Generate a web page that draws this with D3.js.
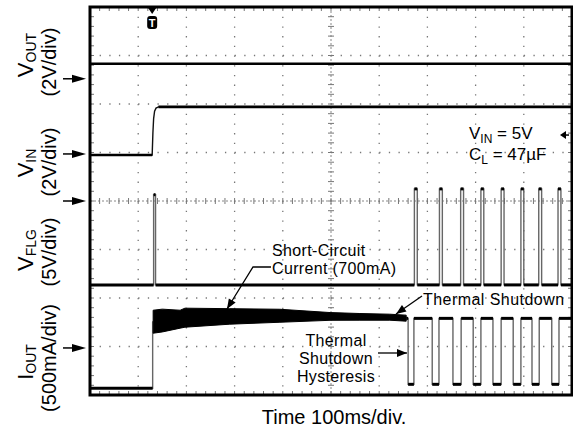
<!DOCTYPE html>
<html><head><meta charset="utf-8">
<script src="https://cdn.jsdelivr.net/npm/d3@7"></script>
<style>
html,body{margin:0;padding:0;background:#fff;}
svg{display:block;font-family:"Liberation Sans",Arial,Helvetica,sans-serif;}
</style></head><body>
<svg id="chart" width="573" height="435"></svg>
<script>
// ================= DATA =================
const timeDomain = [0, 1000];          // ms : 10 divisions x 100 ms
const divDomain = [0, 8];              // 8 vertical divisions
const channelNames = ["VOUT", "VIN", "VFLG", "IOUT"];
const channelUnitsPerDiv = [2, 2, 5, 500];          // V, V, V, mA per division
const channelZeroDiv = [6.52, 4.95, 2.27, 0.14];    // division where each trace's 0 sits
const channelMarkerDiv = [6.52, 4.97, 4.0, 0.97];   // left-hand channel arrows
const triggerTime = 129;                             // ms
const triggerLevelDiv = 5.36;

// V_OUT (V)
const vOut = [[0, 0.62], [1000, 0.62]];
// V_IN (V)
const vIn = [[0, 0], [129, 0], [130.5, 0.9], [132, 1.5], [134, 1.8], [137, 1.93], [142, 1.98], [1000, 1.98]];
// V_FLG (V)
const vFlg = [[0, 0], [132, 0], [132, 9.3], [136, 9.3], [136, 0],
  [673, 0], [673, 9.9], [679, 9.9], [679, 0],
  [725, 0], [725, 9.9], [731, 9.9], [731, 0],
  [769, 0], [769, 9.9], [775, 9.9], [775, 0],
  [811, 0], [811, 9.9], [817, 9.9], [817, 0],
  [853, 0], [853, 9.9], [859, 9.9], [859, 0],
  [894, 0], [894, 9.9], [900, 9.9], [900, 0],
  [931, 0], [931, 9.9], [937, 9.9], [937, 0],
  [971, 0], [971, 9.9], [977, 9.9], [977, 0], [1000, 0]];
// I_OUT (mA)
const iOutStart = [[0, 0], [130, 0], [130, 690]];
const iOutBandT  = [131, 150, 187, 197, 290, 394, 498, 560, 622, 656];
const iOutBandHi = [804, 815, 804, 825, 820, 814, 780, 770, 763, 753];
const iOutBandLo = [567, 580, 619, 629, 660, 680, 700, 701, 701, 691];
const iOutShutdown = [[656, 720], [660, 720], [660, 40], [672, 40], [672, 720],
  [710, 720], [710, 40], [724, 40], [724, 720],
  [753, 720], [753, 40], [770, 40], [770, 720],
  [795, 720], [795, 40], [811, 40], [811, 720],
  [836, 720], [836, 40], [853, 40], [853, 720],
  [878, 720], [878, 40], [894, 40], [894, 720],
  [917, 720], [917, 40], [932, 40], [932, 720],
  [958, 720], [958, 40], [973, 40], [973, 720], [1000, 720]];

// ================= LAYOUT =================
const svg = d3.select("#chart");
const L = 90, R = 572, T = 7, B = 395;
const x = d3.scaleLinear().domain(timeDomain).range([L, R]);
const y = d3.scaleLinear().domain(divDomain).range([B, T]);
const chY = (ch, v) => y(channelZeroDiv[ch] + v / channelUnitsPerDiv[ch]);
const xMinor = (R - L) / 50, yMinor = (B - T) / 40;

// ---- grid ----
const grid = svg.append("g");
for (let k = 1; k < 10; k++) {
  if (k === 5) continue;
  grid.append("line").attr("x1", x(k * 100)).attr("x2", x(k * 100)).attr("y1", T).attr("y2", B)
    .attr("stroke", "#777").attr("stroke-width", 1.3).attr("stroke-dasharray", `1.3 ${yMinor - 1.3}`);
}
for (let k = 1; k < 8; k++) {
  if (k === 4) continue;
  grid.append("line").attr("y1", y(k)).attr("y2", y(k)).attr("x1", L).attr("x2", R)
    .attr("stroke", "#777").attr("stroke-width", 1.3).attr("stroke-dasharray", `1.3 ${xMinor - 1.3}`);
}
// center crosshair
const cx = x(500), cy = y(4);
grid.append("line").attr("x1", L).attr("x2", R).attr("y1", cy).attr("y2", cy)
  .attr("stroke", "#888").attr("stroke-width", 1).attr("stroke-dasharray", "2 2");
grid.append("line").attr("y1", T).attr("y2", B).attr("x1", cx).attr("x2", cx)
  .attr("stroke", "#888").attr("stroke-width", 1).attr("stroke-dasharray", "2 2");
for (let i = 1; i < 50; i++) {
  const xx = L + i * xMinor;
  grid.append("line").attr("x1", xx).attr("x2", xx).attr("y1", cy - 3).attr("y2", cy + 3).attr("stroke", "#777").attr("stroke-width", 1);
  grid.append("line").attr("x1", xx).attr("x2", xx).attr("y1", T).attr("y2", T + 4).attr("stroke", "#777").attr("stroke-width", 1);
  grid.append("line").attr("x1", xx).attr("x2", xx).attr("y1", B - 4).attr("y2", B).attr("stroke", "#777").attr("stroke-width", 1);
}
for (let i = 1; i < 40; i++) {
  const yy = T + i * yMinor;
  grid.append("line").attr("y1", yy).attr("y2", yy).attr("x1", cx - 3).attr("x2", cx + 3).attr("stroke", "#777").attr("stroke-width", 1);
  grid.append("line").attr("y1", yy).attr("y2", yy).attr("x1", L).attr("x2", L + 4).attr("stroke", "#777").attr("stroke-width", 1);
  grid.append("line").attr("y1", yy).attr("y2", yy).attr("x1", R - 4).attr("x2", R).attr("stroke", "#777").attr("stroke-width", 1);
}

// ---- traces ----
const tr = svg.append("g");
function drawTrace(data, ch, thinColor, thickW) {
  const line = d3.line().x(d => x(d[0])).y(d => chY(ch, d[1]));
  tr.append("path").attr("d", line(data)).attr("fill", "none")
    .attr("stroke", thinColor).attr("stroke-width", 1.4);
  for (let i = 0; i < data.length - 1; i++) {
    if (data[i][1] === data[i + 1][1]) {
      tr.append("line").attr("x1", x(data[i][0])).attr("x2", x(data[i + 1][0]))
        .attr("y1", chY(ch, data[i][1])).attr("y2", chY(ch, data[i + 1][1]))
        .attr("stroke", "#000").attr("stroke-width", thickW);
    }
  }
}
drawTrace(vOut, 0, "#000", 2.6);
drawTrace(vIn, 1, "#111", 2.6);
drawTrace(vFlg, 2, "#666", 3);
drawTrace(iOutStart, 3, "#666", 3);
// short-circuit band
const band = iOutBandT.map((t, i) => ({ t, hi: iOutBandHi[i], lo: iOutBandLo[i] }));
tr.append("path").datum(band)
  .attr("d", d3.area().x(d => x(d.t)).y0(d => chY(3, d.lo)).y1(d => chY(3, d.hi)))
  .attr("fill", "#000").attr("stroke", "#000").attr("stroke-width", 1);
drawTrace(iOutShutdown, 3, "#666", 3);

// ---- frame ----
svg.append("rect").attr("x", L).attr("y", T).attr("width", R - L).attr("height", B - T)
  .attr("fill", "none").attr("stroke", "#000").attr("stroke-width", 3);

// ---- channel arrows ----
channelMarkerDiv.forEach(d => {
  const yy = y(d);
  svg.append("line").attr("x1", 63).attr("x2", 74).attr("y1", yy).attr("y2", yy).attr("stroke", "#000").attr("stroke-width", 1.5);
  svg.append("path").attr("d", `M72,${yy - 4}L86,${yy}L72,${yy + 4}Z`).attr("fill", "#000");
});

// ---- trigger markers ----
const tx = x(triggerTime);
svg.append("path").attr("d", `M${tx - 4},${T + 1}L${tx + 4},${T + 1}L${tx},${T + 7}Z`).attr("fill", "#000");
svg.append("rect").attr("x", tx - 5).attr("y", T + 9).attr("width", 10).attr("height", 13).attr("rx", 3).attr("fill", "#000");
svg.append("text").attr("x", tx).attr("y", T + 20).attr("text-anchor", "middle").attr("fill", "#fff")
  .attr("font-size", 11).attr("font-weight", "bold").text("T");
const ty = y(triggerLevelDiv);
svg.append("path").attr("d", `M${R - 12},${ty}L${R - 6},${ty - 4}L${R - 6},${ty + 4}Z`).attr("fill", "#000");
svg.append("line").attr("x1", R - 7).attr("x2", R - 3).attr("y1", ty).attr("y2", ty).attr("stroke", "#000").attr("stroke-width", 1.5);

// ---- annotations (in data coordinates) ----
function arrow(pts) {
  const p = pts.map(d => [x(d[0]), y(d[1])]);
  svg.append("path").attr("d", d3.line()(p)).attr("fill", "none").attr("stroke", "#000").attr("stroke-width", 1.3);
  const a = p[p.length - 2], b = p[p.length - 1];
  const ang = Math.atan2(b[1] - a[1], b[0] - a[0]);
  const len = 10, w = 4;
  const bx = b[0] - len * Math.cos(ang), by = b[1] - len * Math.sin(ang);
  svg.append("path").attr("d",
    `M${b[0]},${b[1]}L${bx + w * Math.sin(ang)},${by - w * Math.cos(ang)}L${bx - w * Math.sin(ang)},${by + w * Math.cos(ang)}Z`)
    .attr("fill", "#000");
}
arrow([[375.5, 2.639], [338.2, 2.639], [284.2, 1.773]]);
arrow([[688.8, 2.041], [634.9, 1.670]]);
arrow([[597.5, 0.866], [657.7, 0.866]]);

function htext(t, d, parts, size, anchor, ls) {
  const el = svg.append("text").attr("x", x(t)).attr("y", y(d)).attr("font-size", size)
    .attr("text-anchor", anchor || "start").attr("fill", "#000");
  if (ls) el.attr("letter-spacing", ls);
  parts.forEach(p => {
    const s = el.append("tspan").text(p[0]);
    if (p[1]) s.attr("font-size", p[1]).attr("dy", p[2]);
  });
}
htext(377.6, 2.866, [["Short-Circuit"]], 16, "start", 0.35);
htext(377.6, 2.495, [["Current (700mA)"]], 16, "start", 0.35);
htext(690.9, 1.856, [["Thermal Shutdown"]], 16, "start", 0.45);
htext(510.4, 1.010, [["Thermal"]], 16, "middle", 0.35);
htext(510.4, 0.639, [["Shutdown"]], 16, "middle", 0.35);
htext(510.4, 0.268, [["Hysteresis"]], 16, "middle", 0.35);
htext(786.3, 5.278, [["V"], ["IN", 12, 4], [" = 5V", 17, -4]], 17);
htext(786.3, 4.845, [["C"], ["L", 12, 4], [" = 47µF", 17, -4]], 17);

// ---- rotated channel labels ----
function vlabel(xb, yc, parts, size) {
  const el = svg.append("text").attr("transform", `translate(${xb},${yc}) rotate(-90)`)
    .attr("text-anchor", "middle").attr("font-size", size).attr("fill", "#000");
  parts.forEach(p => {
    const s = el.append("tspan").text(p[0]);
    if (p[1]) s.attr("font-size", p[1]).attr("dy", p[2]);
  });
}
const labelMain = [["V", "OUT"], ["V", "IN"], ["V", "FLG"], ["I", "OUT"]];
const labelUnit = ["(2V/div)", "(2V/div)", "(5V/div)", "(500mA/div)"];
const labelC1 = [55, 163, 250, 362], labelC2 = [62, 162, 252, 358];
labelMain.forEach((m, i) => {
  vlabel(33, labelC1[i], [[m[0]], [m[1], 14, 3]], 22);
  vlabel(56, labelC2[i], [[labelUnit[i]]], 20);
});

// ---- x title ----
svg.append("text").attr("x", 334).attr("y", 424).attr("text-anchor", "middle")
  .attr("font-size", 20).attr("fill", "#000").text("Time 100ms/div.");
</script>
</body></html>
